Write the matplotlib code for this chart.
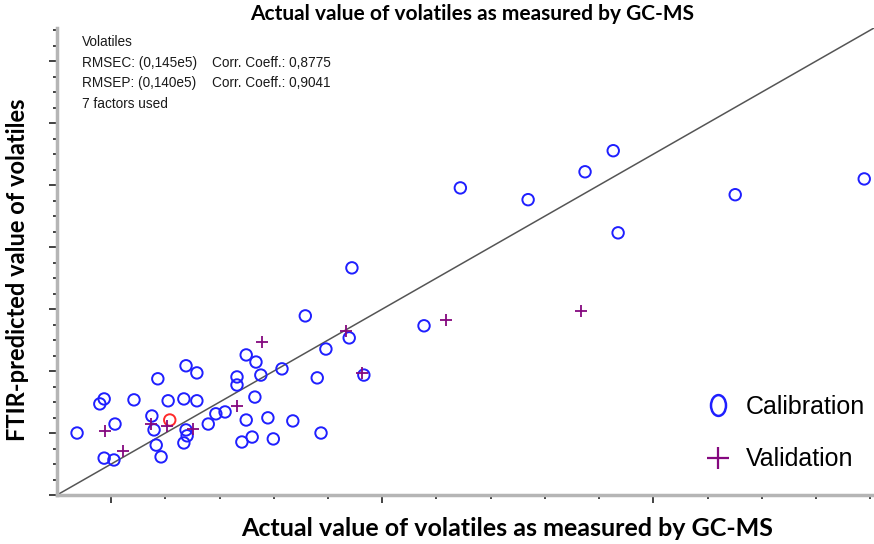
import matplotlib.pyplot as plt
from matplotlib.ticker import FixedLocator, MultipleLocator
from matplotlib.lines import Line2D
from matplotlib.path import Path
import matplotlib.transforms as mtransforms

# calibration samples (actual, predicted)
cal_x = [0.37, 0.79, 0.87, 1.07, 0.87, 1.05, 1.42, 1.75, 1.79, 1.83, 1.92, 1.86, 2.05,
         2.38, 2.58, 2.34, 2.58, 2.38, 2.40, 2.34, 2.79, 2.93, 3.10, 3.32, 3.32, 3.49,
         3.67, 3.76, 3.65, 3.49, 3.89, 3.60, 3.41, 3.99, 4.15, 4.35, 4.58, 4.80, 4.96,
         4.87, 5.39, 5.66, 5.44, 6.77, 7.44, 8.69, 9.74, 10.26, 10.35, 12.51, 14.89]
cal_y = [2.00, 2.94, 3.10, 2.29, 1.19, 1.13, 3.07, 2.55, 2.10, 1.61, 1.23, 3.75, 3.04,
         4.17, 3.94, 3.10, 3.04, 2.10, 1.91, 1.68, 2.29, 2.62, 2.68, 3.81, 3.55, 4.52,
         4.29, 3.87, 3.16, 2.42, 2.49, 1.87, 1.71, 1.81, 4.07, 2.39, 5.78, 3.78, 4.71,
         2.00, 5.07, 3.87, 7.33, 5.46, 9.91, 9.53, 10.43, 11.11, 8.46, 9.69, 10.20]
# highlighted sample
red_x = [2.08]
red_y = [2.42]
# validation samples
val_x = [0.89, 1.22, 1.73, 2.03, 2.51, 3.32, 3.78, 5.33, 5.63, 7.18, 9.67]
val_y = [2.07, 1.42, 2.29, 2.23, 2.13, 2.87, 4.94, 5.30, 3.94, 5.65, 5.94]

info_left = ["Volatiles", "RMSEC: (0,145e5)", "RMSEP: (0,140e5)", "7 factors used"]
info_right = ["", "Corr. Coeff.: 0,8775", "Corr. Coeff.: 0,9041", ""]

lim = 15.07
blue = '#1f1fff'
purple = '#85087f'

fig = plt.figure(figsize=(8.74, 5.44), dpi=100)
ax = fig.add_axes([57/874, 49/544, 817/874, 467/544])

ax.plot([0, lim], [0, lim], color='#555555', lw=1.1, zorder=1)
ax.scatter(cal_x, cal_y, s=68, facecolors='none', edgecolors=blue, linewidths=1.4, zorder=3)
ax.scatter(red_x, red_y, s=68, facecolors='none', edgecolors='#ff2a2a', linewidths=1.4, zorder=3)
ax.scatter(val_x, val_y, s=85, marker='+', color=purple, linewidths=1.3, zorder=4)

ax.set_xlim(0, lim)
ax.set_ylim(0, lim)
for s in ['top', 'right']:
    ax.spines[s].set_visible(False)
for s in ['left', 'bottom']:
    ax.spines[s].set_color('#b5b5b5')
    ax.spines[s].set_linewidth(2.5)

ax.xaxis.set_major_locator(FixedLocator([1, 6, 11]))
ax.xaxis.set_minor_locator(FixedLocator([2, 3, 4, 5, 7, 8, 9, 10, 12, 13, 14, 15]))
ax.yaxis.set_major_locator(MultipleLocator(2))
ax.yaxis.set_minor_locator(MultipleLocator(0.5))
ax.tick_params(which='major', length=6, width=1.2, color='#222222',
               labelbottom=False, labelleft=False)
ax.tick_params(which='minor', length=3, width=1.2, color='#222222')

# info block
for i, (a, b) in enumerate(zip(info_left, info_right)):
    yy = 1 - (42 + 20.7 * i) / 544
    fig.text(82/874, yy, a, fontsize=9.8, family='Liberation Sans', color='#1a1a1a', va='center')
    if b:
        fig.text(212/874, yy, b, fontsize=9.8, family='Liberation Sans', color='#1a1a1a', va='center')

# legend
ell = Path.unit_circle().transformed(mtransforms.Affine2D().scale(0.72, 1))
handles = [Line2D([], [], ls='none', marker=ell, ms=15, mfc='none', mec=blue, mew=1.8,
                  label='Calibration'),
           Line2D([], [], ls='none', marker='+', ms=16, color=purple, mew=1.6,
                  label='Validation')]
leg = ax.legend(handles=handles, loc='center left', bbox_to_anchor=(693/874, (544 - 433)/544),
                bbox_transform=fig.transFigure, frameon=False, handlelength=1.0,
                handletextpad=0.6, labelspacing=1.15, borderpad=0,
                prop={'family': 'Liberation Sans', 'size': 18})

fig.text(472/874, 1 - 14/544, "Actual value of volatiles as measured by GC-MS",
         ha='center', va='center', fontsize=15, fontweight='bold', family='Lato')
fig.text(507/874, 1 - 528/544, "Actual value of volatiles as measured by GC-MS",
         ha='center', va='center', fontsize=18, fontweight='bold', family='Lato')
fig.text(18/874, 1 - 270/544, "FTIR-predicted value of volatiles", rotation=90,
         ha='center', va='center', fontsize=17, fontweight='bold', family='Lato')

fig.savefig('out.png', dpi=100)
